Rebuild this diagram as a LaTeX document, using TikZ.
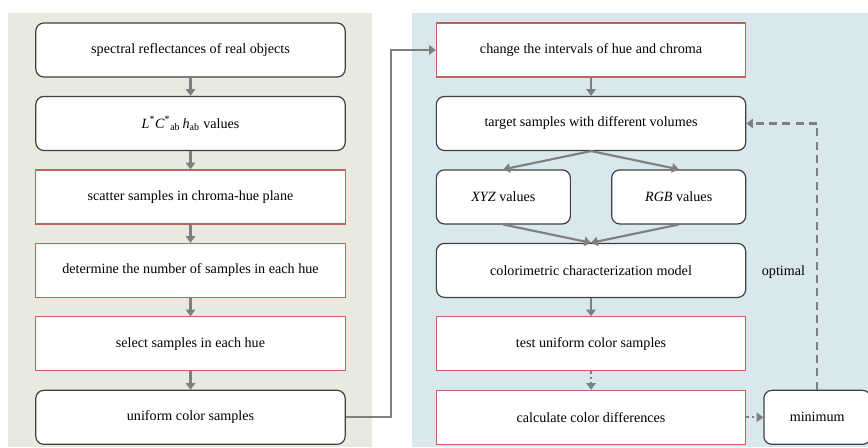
\documentclass[tikz,border=0pt]{standalone}
\usepackage{fontspec}
\setmainfont{Liberation Serif}
\usetikzlibrary{positioning,arrows.meta}
\definecolor{leftbg}{HTML}{E9EADF}
\definecolor{rightbg}{HTML}{D8E8ED}
\definecolor{redline}{HTML}{C46262}
\definecolor{arrowgray}{HTML}{7F7F7F}
\tikzset{
  roundbox/.style={draw=black!75, fill=white, rounded corners=6pt, line width=0.9pt,
    minimum width=232pt, minimum height=40.5pt, inner sep=0pt,
    font=\fontsize{10.6}{12}\selectfont},
  redbox/.style={roundbox, draw=redline, rounded corners=0pt},
  halfbox/.style={roundbox, minimum width=100.5pt},
  flow/.style={draw=arrowgray, line width=1.6pt, -{Triangle[length=5pt,width=7pt]}},
}

\begin{document}
\begin{tikzpicture}[x=0.75pt, y=-0.75pt, node distance=13.7pt]
		% Panels
		\useasboundingbox (0,0) rectangle (868,447);
		\fill[leftbg] (8,13) rectangle (372,447);
		\fill[rightbg] (412,13) rectangle (868,447);

		% Left column
		\node[roundbox] (spectral) at (190.5,50) {spectral reflectances of real objects};
		\node[roundbox, below=of spectral] (lch) {\textit{L}\textsuperscript{*}\textit{C}\textsuperscript{*}\textsubscript{ab}\,\textit{h}\textsubscript{ab} values};
		\node[redbox, below=of lch] (scatter) {scatter samples in chroma-hue plane};
		\node[redbox, below=of scatter] (number) {determine the number of samples in each hue};
		\node[redbox, below=of number] (select) {select samples in each hue};
		\node[roundbox, below=of select] (uniform) {uniform color samples};

		% Right column
		\node[redbox, right=67.5pt of spectral] (change) {change the intervals of hue and chroma};
		\node[roundbox, below=of change] (target) {target samples with different volumes};
		\node[halfbox, below=of target.south west, anchor=north west] (XYZ) {\textit{XYZ} values};
		\node[halfbox, below=of target.south east, anchor=north east] (RGB) {\textit{RGB} values};
		\node[roundbox, below=of XYZ.south west, anchor=north west] (model) {colorimetric characterization model};
		\node[redbox, below=of model] (test) {test uniform color samples};
		\node[redbox, below=of test] (calc) {calculate color differences};
		\node[roundbox, minimum width=80pt, right=12.75pt of calc] (minimum) {minimum};

		% Connect the nodes
		\draw[flow] (spectral) -- (lch);
		\draw[flow] (lch) -- (scatter);
		\draw[flow] (scatter) -- (number);
		\draw[flow] (number) -- (select);
		\draw[flow] (select) -- (uniform);
		\draw[flow] (uniform.east) -- ++(33.75pt,0) |- (change.west);
		\draw[flow] (change) -- (target);
		\draw[flow] (target.south) -- (XYZ.north);
		\draw[flow] (target.south) -- (RGB.north);
		\draw[flow] (XYZ.south) -- (model.north);
		\draw[flow] (RGB.south) -- (model.north);
		\draw[flow] (model) -- (test);
		\draw[flow, dash pattern=on 2pt off 2pt] (test) -- (calc);
		\draw[flow, dash pattern=on 2pt off 2pt] (calc) -- (minimum);
		\draw[flow, dash pattern=on 6pt off 4pt] (minimum.north) |- (target.east)
			node[pos=0.22, left=5pt, font=\fontsize{10.6}{12}\selectfont] (optimal) {optimal};
	\end{tikzpicture}
\end{document}
